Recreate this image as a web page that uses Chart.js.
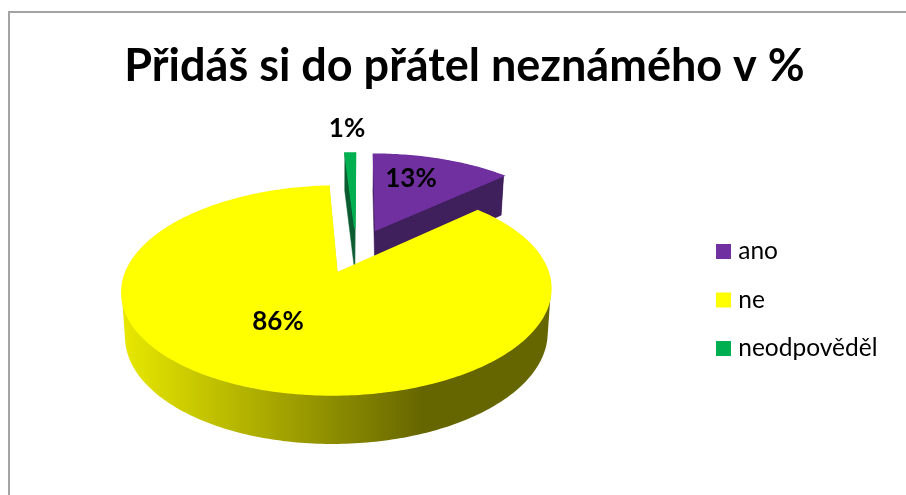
<!DOCTYPE html>
<html>
<head>
<meta charset="utf-8">
<style>
  html, body { margin: 0; padding: 0; background: #fff; overflow: hidden; }
  #frame { position: absolute; left: 8px; top: 11px; width: 898px; height: 484px; border-left: 2px solid #a3a3a3; border-top: 2px solid #a3a3a3; box-sizing: border-box; }
  canvas { position: absolute; left: 0; top: 0; }
</style>
<script src="https://cdn.jsdelivr.net/npm/chart.js@4/dist/chart.umd.min.js"></script>
</head>
<body>
<div id="frame"></div>
<canvas id="pie" width="906" height="495"></canvas>
<script>
const titleText = 'Přidáš si do přátel neznámého v %';
const categories = ['ano', 'ne', 'neodpověděl'];
const values = [13, 86, 1];
const colors = ['#7030a0', '#ffff00', '#00b050'];
const sideColors = ['#3f1f5c', '#666600', '#0b5c30'];

// perspective of the 3d pie, fitted by eye on the reference
const view = { x: 337, y: 273, vanishX: 360, rx: 211.5, ry: 101.6, k: 0.167, planeX: 0.0902, planeY: -0.2278 };
const floor = { dy: 43.6, ry: 106.1, shrink: 0.985 };
const drawOrder = [0, 2, 1];                // back to front
const labelSpots = [[411, 179], [278, 322], [347, 129]];

function project(u, v, low) {
    const px = u + view.planeX, py = v + view.planeY;
    const s = 1 / (1 - view.k * py);
    const lean = view.vanishX - view.x;
    if (low) {
        return [view.vanishX + (view.rx * floor.shrink * px - lean) * s, view.y + floor.dy + floor.ry * py * s];
    }
    return [view.vanishX + (view.rx * px - lean) * s, view.y + view.ry * py * s];
}

function addShape(ctx, pts) {
    // same winding for every shape, so overlaps in one path do not cancel
    let area = 0;
    pts.forEach((p, i) => {
        const q = pts[(i + 1) % pts.length];
        area += p[0] * q[1] - q[0] * p[1];
    });
    const list = area < 0 ? pts.slice().reverse() : pts;
    list.forEach((p, i) => i ? ctx.lineTo(p[0], p[1]) : ctx.moveTo(p[0], p[1]));
    ctx.closePath();
}

function paint(ctx, shapes, fill, edge) {
    ctx.beginPath();
    shapes.forEach(pts => addShape(ctx, pts));
    ctx.fillStyle = fill;
    ctx.strokeStyle = fill;
    ctx.lineWidth = edge;
    ctx.fill();
    if (edge) ctx.stroke();
}

const pie3d = {
    id: 'pie3d',
    afterLayout(chart) {
        // legend sits where the reference has it
        chart.legend.left = 697;
        chart.legend.top = 215.25;
    },
    beforeDatasetsDraw(chart) {
        const ctx = chart.ctx;
        const arcs = chart.getDatasetMeta(0).data;
        const wallFill = ctx.createLinearGradient(122, 0, 551, 0);
        wallFill.addColorStop(0, '#e8e800');
        wallFill.addColorStop(0.7, '#666600');
        wallFill.addColorStop(1, '#666600');

        drawOrder.forEach(i => {
            const arc = arcs[i];
            const mid = (arc.startAngle + arc.endAngle) / 2;
            const shift = arc.options.offset / arc.outerRadius;
            const ox = Math.cos(mid) * shift, oy = Math.sin(mid) * shift;
            const rim = [];
            const steps = Math.max(4, Math.round((arc.endAngle - arc.startAngle) * 60));
            for (let n = 0; n <= steps; n++) {
                const a = arc.startAngle + (arc.endAngle - arc.startAngle) * n / steps;
                rim.push([ox + Math.cos(a), oy + Math.sin(a)]);
            }
            const top = p => project(p[0], p[1], false);
            const low = p => project(p[0], p[1], true);
            const apex = [ox, oy];
            const first = rim[0], last = rim[rim.length - 1];

            // radial walls
            paint(ctx, [first, last].map(p => [top(apex), top(p), low(p), low(apex)]), sideColors[i], 0.5);
            // outer wall, quads in one path so the silhouette stays closed at the sides
            const quads = [];
            for (let n = 0; n < steps; n++) {
                quads.push([top(rim[n]), top(rim[n + 1]), low(rim[n + 1]), low(rim[n])]);
            }
            paint(ctx, quads, i === 1 ? wallFill : sideColors[i], 0);
            // top face, a bit of stroke hides the wall fringe
            paint(ctx, [[top(apex)].concat(rim.map(top))], colors[i], 1.5);
        });

        ctx.save();
        ctx.fillStyle = '#000';
        ctx.font = 'bold 26px Lato';
        ctx.textAlign = 'center';
        ctx.textBaseline = 'middle';
        values.forEach((val, i) => ctx.fillText(val + '%', labelSpots[i][0], labelSpots[i][1]));
        ctx.restore();
        return false;
    }
};

new Chart(document.getElementById('pie').getContext('2d'), {
    type: 'pie',
    data: {
        labels: categories,
        datasets: [{ data: values, backgroundColor: colors, radius: 200, offset: [49, 49, 49], borderWidth: 0 }]
    },
    options: {
        responsive: false,
        animation: false,
        layout: { padding: { left: 23, top: 39 } },
        plugins: {
            tooltip: { enabled: false },
            title: {
                display: true,
                text: titleText,
                color: '#000',
                font: { family: 'Lato', weight: 'bold', size: 45 },
                padding: 0
            },
            legend: {
                position: 'right',
                align: 'start',
                labels: {
                    color: '#111',
                    font: { family: 'Lato', size: 24.5 },
                    boxWidth: 5,
                    boxHeight: 5,
                    padding: 24,
                    // thick outline makes the 15px swatch with a tight text gap
                    generateLabels: () => categories.map((name, i) => ({
                        text: name, fillStyle: colors[i], strokeStyle: colors[i], lineWidth: 10, index: i
                    }))
                }
            }
        }
    },
    plugins: [pie3d]
});
</script>
</body>
</html>
